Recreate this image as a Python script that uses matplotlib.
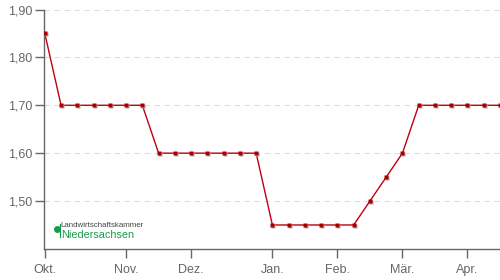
import matplotlib
matplotlib.use("Agg")
import matplotlib.pyplot as plt
import matplotlib.transforms as mtransforms

plt.rcParams["font.family"] = ["Liberation Sans", "DejaVu Sans"]

weeks = list(range(29))
prices = [1.85] + [1.70]*6 + [1.60]*7 + [1.45]*6 + [1.50, 1.55, 1.60] + [1.70]*6
month_pos = [0, 5, 9, 14, 18, 22, 26]
month_labels = ["Okt.", "Nov.", "Dez.", "Jan.", "Feb.", "Mär.", "Apr."]
yticks = [1.50, 1.60, 1.70, 1.80, 1.90]
ylabels = ["1,50", "1,60", "1,70", "1,80", "1,90"]

fig = plt.figure(figsize=(5, 2.8), dpi=100)
ax = fig.add_axes([0.088, 0.111, 0.912, 0.855])

gray = "#666666"
ax.set_xlim(-0.05, 28.0)
ax.set_ylim(1.40, 1.90)
for y in yticks:
    ax.axhline(y, color="#dddddd", lw=0.8, ls=(0, (5, 4)), zorder=0)

ax.plot(weeks, prices, color="#c00010", lw=1.0, zorder=2, clip_on=True)
shadow = mtransforms.offset_copy(ax.transData, fig=fig, x=0.7, y=-0.7, units="points")
ax.plot(weeks, prices, ls="none", marker="s", ms=2.8, color="#aaaaaa", mec="none",
        transform=shadow, zorder=2.5)
ax.plot(weeks, prices, ls="none", marker="s", ms=2.8, color="#a80000", mec="none", zorder=3)

ax.set_xticks(month_pos)
ax.set_xticklabels(month_labels)
ax.set_yticks(yticks)
ax.set_yticklabels(ylabels)
for s in ["top", "right"]:
    ax.spines[s].set_visible(False)
for s in ["left", "bottom"]:
    ax.spines[s].set_color(gray)
    ax.spines[s].set_linewidth(1.0)
ax.tick_params(axis="both", colors=gray, labelcolor=gray, length=6.5, width=1.0,
               labelsize=9)
ax.tick_params(axis="x", pad=4)
ax.tick_params(axis="y", pad=2)

# logo
ax.scatter([0.75], [1.441], s=16, color="#1a9b4b", zorder=4, clip_on=False)
ax.plot([0.95, 0.95], [1.424, 1.452], color="#1a9b4b", lw=0.8)
ax.text(0.95, 1.448, "Landwirtschaftskammer", fontsize=5.7, color="#444444", va="center", ha="left")
ax.text(0.98, 1.429, "Niedersachsen", fontsize=7.8, color="#1a9b4b", va="center", ha="left")

fig.savefig("out.png", dpi=100)
